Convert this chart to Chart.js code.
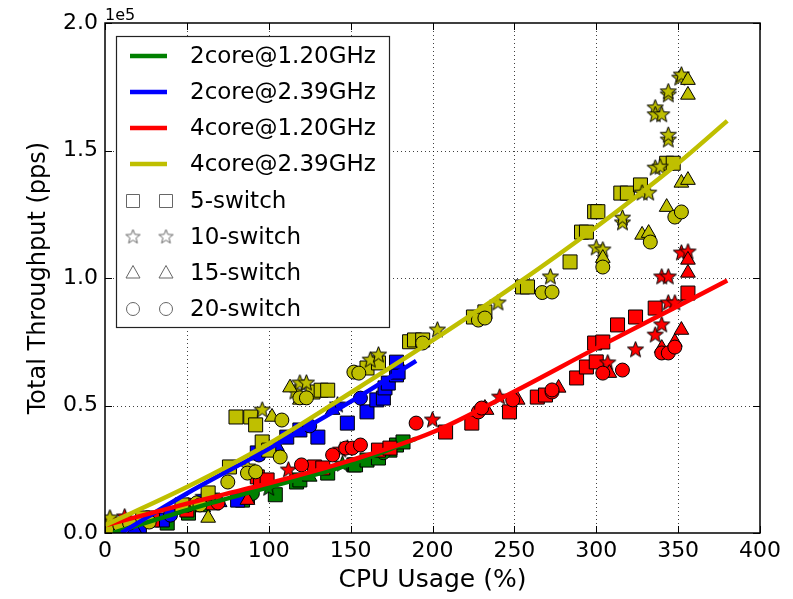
<!DOCTYPE html>
<html><head><meta charset="utf-8">
<script src="https://cdn.jsdelivr.net/npm/chart.js@4"></script>
<style>html,body{margin:0;padding:0;background:#fff}#wrap{width:793px;height:599px;position:relative}</style>
</head><body><div id="wrap"><canvas id="c" width="793" height="599"></canvas></div>
<script>
// ---------- data (x = CPU usage %, y = throughput pps) ----------
const configs = ['2core@1.20GHz','2core@2.39GHz','4core@1.20GHz','4core@2.39GHz'];
const switchLabels = ['5-switch','10-switch','15-switch','20-switch'];
const xTicks = [0,50,100,150,200,250,300,350,400];
const yTicks = [0,50000,100000,150000,200000];

// fitted curves
const fitG12 = [[5,0],[50,9000],[100,18000],[150,27000],[190,37000]];
const fitB239 = [[10,0],[50,15500],[100,33000],[150,51500],[190,67500]];
const fitR12 = [[0,3000],[50,11500],[100,19500],[150,28500],[200,39500],[250,55500],[300,72500],[350,89000],[380,99000]];
const fitY239 = [[0,3000],[50,18000],[100,35000],[150,55000],[200,75500],[250,97000],[300,120000],[350,145000],[380,161600]];

// 2core@1.20GHz
const g12_s5 = [[38,3900],[51,7800],[66,12900],[84,12900],[87,14100],[104,15000],[117,20000],[119,20800],[136,23500],[152,26700],[153,26700],[160,28600],[167,29400],[174,32500],[178,34500],[182,35700]];
const g12_s10 = [[100,17500],[145,27000]];
const g12_s15 = [[60,10000],[125,22000]];
const g12_s20 = [[90,15500],[170,31500]];
// 2core@2.39GHz
const b239_s5 = [[21,2000],[29,5900],[35,5100],[49,10200],[81,12900],[93,31400],[111,37600],[119,40400],[130,37600],[148,43100],[160,47500],[166,52200],[170,52900],[171,56900],[173,58800],[178,62000],[179,63100],[178,67000]];
const b239_s10 = [[60,14000],[100,33000],[142,50200]];
const b239_s15 = [[18,1500],[70,12000],[105,34000],[139,48200]];
const b239_s20 = [[40,7000],[94,30600],[125,42000],[156,52900]];
// 4core@1.20GHz
const r12_s5 = [[29,5100],[50,9000],[66,11800],[93,22000],[95,20000],[99,20800],[128,25900],[133,25500],[167,32500],[174,33300],[208,39600],[224,43100],[247,47500],[264,53300],[269,54100],[288,60800],[294,65100],[300,67100],[299,74500],[304,74900],[313,81600],[324,84700],[336,88200],[356,94100]];
const r12_s10 = [[3,5100],[12,6300],[112,24700],[144,32500],[148,33300],[200,44300],[241,53300],[307,66700],[324,71800],[336,77600],[340,81600],[344,90200],[348,90200],[340,100400],[344,100400],[352,109800],[356,110200]];
const r12_s15 = [[87,12900],[232,49000],[233,48200],[252,52200],[277,56900],[308,62700],[340,72500],[348,74900],[352,79600],[356,102000],[356,107100]];
const r12_s20 = [[51,11000],[69,11800],[120,26700],[139,30600],[147,33300],[151,33300],[156,34500],[190,43100],[228,47500],[230,49000],[249,52200],[273,55300],[273,56100],[304,62700],[316,63900],[340,70600],[344,70600],[348,72900]];
// 4core@2.39GHz
const y239_s5 = [[1,2400],[23,5900],[47,11000],[63,15700],[76,25900],[80,45500],[89,45500],[92,42400],[96,35700],[100,32500],[127,55300],[132,56000],[136,56000],[160,64700],[167,66700],[186,75000],[189,75700],[194,75700],[225,84700],[232,86700],[255,96500],[258,96500],[284,106300],[291,118000],[294,118000],[299,126000],[301,126000],[315,133300],[319,133300],[327,136500],[343,145000],[347,145000]];
const y239_s10 = [[3,5900],[87,25900],[96,48200],[116,55300],[119,58800],[123,58800],[162,67800],[167,69800],[203,79600],[240,90200],[272,100400],[300,111800],[304,111000],[316,121600],[316,123500],[328,133300],[332,133300],[336,143100],[339,143500],[344,154100],[344,156000],[336,166700],[336,164000],[340,164000],[344,171800],[344,173000],[351,178400],[352,179600]];
const y239_s15 = [[63,5900],[102,45500],[113,57000],[119,52200],[304,107800],[328,116900],[332,117600],[343,127800],[352,137300],[356,138400],[356,171800],[356,177600]];
const y239_s20 = [[9,3100],[15,3900],[27,4300],[56,11800],[58,11000],[75,20000],[87,23500],[92,24000],[107,29800],[108,44300],[119,53000],[123,53000],[152,63100],[155,62700],[194,74500],[228,83500],[232,84300],[267,94300],[273,94500],[304,104300],[333,114100],[348,123900],[352,125900]];

// ---------- styling ----------
const COLORS = ['#008000','#0000ff','#ff0000','#bfbf00'];
const FONT = "'DejaVu Sans', sans-serif";
function starImg(fill, stroke, R, r){
  const s = Math.ceil(R*2+4), c = document.createElement('canvas'); c.width = s; c.height = s;
  const g = c.getContext('2d'); g.beginPath();
  for (let i=0;i<10;i++){ const a=-Math.PI/2+i*Math.PI/5, rr=i%2?r:R; g.lineTo(s/2+rr*Math.cos(a), s/2+rr*Math.sin(a)); }
  g.closePath(); g.fillStyle=fill; g.fill(); g.lineWidth=1; g.strokeStyle=stroke; g.stroke(); return c;
}
const pts = a => a.map(([x,y]) => ({x, y}));
const fits = [fitG12, fitB239, fitR12, fitY239];
const groups = [[g12_s5,g12_s10,g12_s15,g12_s20],[b239_s5,b239_s10,b239_s15,b239_s20],[r12_s5,r12_s10,r12_s15,r12_s20],[y239_s5,y239_s10,y239_s15,y239_s20]];

const datasets = [];
fits.forEach((f,i) => datasets.push({
  label: configs[i], data: pts(f), showLine: true, borderColor: COLORS[i], borderWidth: 4.5,
  pointRadius: 0, fill: false, cubicInterpolationMode: 'monotone', order: 3 - i
}));
groups.forEach((grp, ci) => {
  grp.forEach((arr, si) => {
    let ps, rad;
    if (si===0){ ps='rect'; rad=9.9; }
    else if (si===1){ ps=starImg(COLORS[ci],'#000',8.5,3.6); rad=8; }
    else if (si===2){ ps='triangle'; rad=8.5; }
    else { ps='circle'; rad=7; }
    datasets.push({
      label: configs[ci]+' '+switchLabels[si], data: pts(arr), showLine: false,
      pointStyle: ps, pointRadius: rad, pointBackgroundColor: COLORS[ci],
      pointBorderColor: '#000', pointBorderWidth: 1, order: 100 - ci*10 - si
    });
  });
});

const decor = {
  id: 'decor',
  beforeDatasetsDraw(chart){
    const {ctx, chartArea: a, scales: {x, y}} = chart;
    ctx.save(); ctx.strokeStyle = 'rgba(0,0,0,0.75)'; ctx.lineWidth = 1; ctx.setLineDash([1,3]);
    xTicks.slice(1,-1).forEach(v => { const px = Math.round(x.getPixelForValue(v))+0.5; ctx.beginPath(); ctx.moveTo(px,a.top); ctx.lineTo(px,a.bottom); ctx.stroke(); });
    yTicks.slice(1,-1).forEach(v => { const py = Math.round(y.getPixelForValue(v))+0.5; ctx.beginPath(); ctx.moveTo(a.left,py); ctx.lineTo(a.right,py); ctx.stroke(); });
    ctx.restore();
  },
  afterDatasetsDraw(chart){
    const {ctx, chartArea: a, scales: {x, y}} = chart;
    ctx.save();
    // ticks (inward, all sides)
    ctx.strokeStyle = '#000'; ctx.lineWidth = 1;
    const L = 7;
    xTicks.forEach(v => { const px = Math.round(x.getPixelForValue(v))+0.5;
      ctx.beginPath(); ctx.moveTo(px,a.bottom); ctx.lineTo(px,a.bottom-L); ctx.moveTo(px,a.top); ctx.lineTo(px,a.top+L); ctx.stroke(); });
    yTicks.forEach(v => { const py = Math.round(y.getPixelForValue(v))+0.5;
      ctx.beginPath(); ctx.moveTo(a.left,py); ctx.lineTo(a.left+L,py); ctx.moveTo(a.right,py); ctx.lineTo(a.right-L,py); ctx.stroke(); });
    // frame
    ctx.lineWidth = 1.5; ctx.strokeRect(a.left, a.top, a.right-a.left, a.bottom-a.top);
    // offset text
    ctx.fillStyle = '#000'; ctx.font = "16px " + FONT; ctx.textAlign = 'left'; ctx.textBaseline = 'alphabetic';
    ctx.fillText('1e5', a.left, a.top - 3);
    // legend
    const bx = 116, by = 36, bw = 273, bh = 291;
    ctx.fillStyle = '#fff'; ctx.fillRect(bx, by, bw, bh);
    ctx.strokeStyle = '#222'; ctx.lineWidth = 1.2; ctx.strokeRect(bx+0.5, by+0.5, bw, bh);
    ctx.font = "23px " + FONT; ctx.textBaseline = 'middle';
    const rowY = [56,92,128,164,201,237,273,309];
    configs.forEach((c,i) => {
      ctx.strokeStyle = COLORS[i]; ctx.lineWidth = 4.5; ctx.beginPath(); ctx.moveTo(130,rowY[i]); ctx.lineTo(167,rowY[i]); ctx.stroke();
      ctx.fillStyle = '#000'; ctx.fillText(c, 190, rowY[i]+1);
    });
    const hollowStar = starImg('#fff','#666',7.5,3.2);
    switchLabels.forEach((s,i) => {
      const yy = rowY[4+i];
      [133,166].forEach(mx => {
        ctx.strokeStyle = '#666'; ctx.fillStyle = '#fff'; ctx.lineWidth = 1;
        ctx.beginPath();
        if (i===0){ ctx.rect(mx-6.5, yy-6.5, 13, 13); }
        else if (i===2){ ctx.moveTo(mx, yy-7.5); ctx.lineTo(mx+7, yy+5); ctx.lineTo(mx-7, yy+5); ctx.closePath(); }
        else if (i===3){ ctx.arc(mx, yy, 6.5, 0, Math.PI*2); }
        if (i===1){ ctx.drawImage(hollowStar, mx-hollowStar.width/2, yy-hollowStar.height/2); }
        else { ctx.fill(); ctx.stroke(); }
      });
      ctx.fillStyle = '#000'; ctx.fillText(s, 190, yy+1);
    });
    ctx.restore();
  }
};

new Chart(document.getElementById('c'), {
  type: 'scatter',
  data: { datasets },
  options: {
    responsive: false, animation: false, devicePixelRatio: 1,
    layout: { padding: { top: 23, right: 33, left: 0, bottom: 0 } },
    plugins: { legend: { display: false }, tooltip: { enabled: false } },
    scales: {
      x: {
        type: 'linear', min: 0, max: 400,
        afterFit: s => { s.height = 66; },
        afterBuildTicks: s => { s.ticks = xTicks.map(v => ({value: v})); },
        ticks: { color: '#000', font: { family: FONT, size: 22 }, padding: 5, maxRotation: 0, autoSkip: false },
        grid: { display: false, drawTicks: false }, border: { display: false },
        title: { display: true, text: 'CPU Usage (%)', color: '#000', font: { family: FONT, size: 25 }, padding: { top: 0, bottom: 4 } }
      },
      y: {
        type: 'linear', min: 0, max: 200000,
        afterFit: s => { s.width = 105; },
        afterBuildTicks: s => { s.ticks = yTicks.map(v => ({value: v})); },
        ticks: { color: '#000', font: { family: FONT, size: 22 }, padding: 7, autoSkip: false, callback: v => (v/1e5).toFixed(1) },
        grid: { display: false, drawTicks: false }, border: { display: false },
        title: { display: true, text: 'Total Throughput (pps)', color: '#000', font: { family: FONT, size: 24 }, padding: { top: 24, bottom: 0 } }
      }
    }
  },
  plugins: [decor]
});
</script></body></html>
